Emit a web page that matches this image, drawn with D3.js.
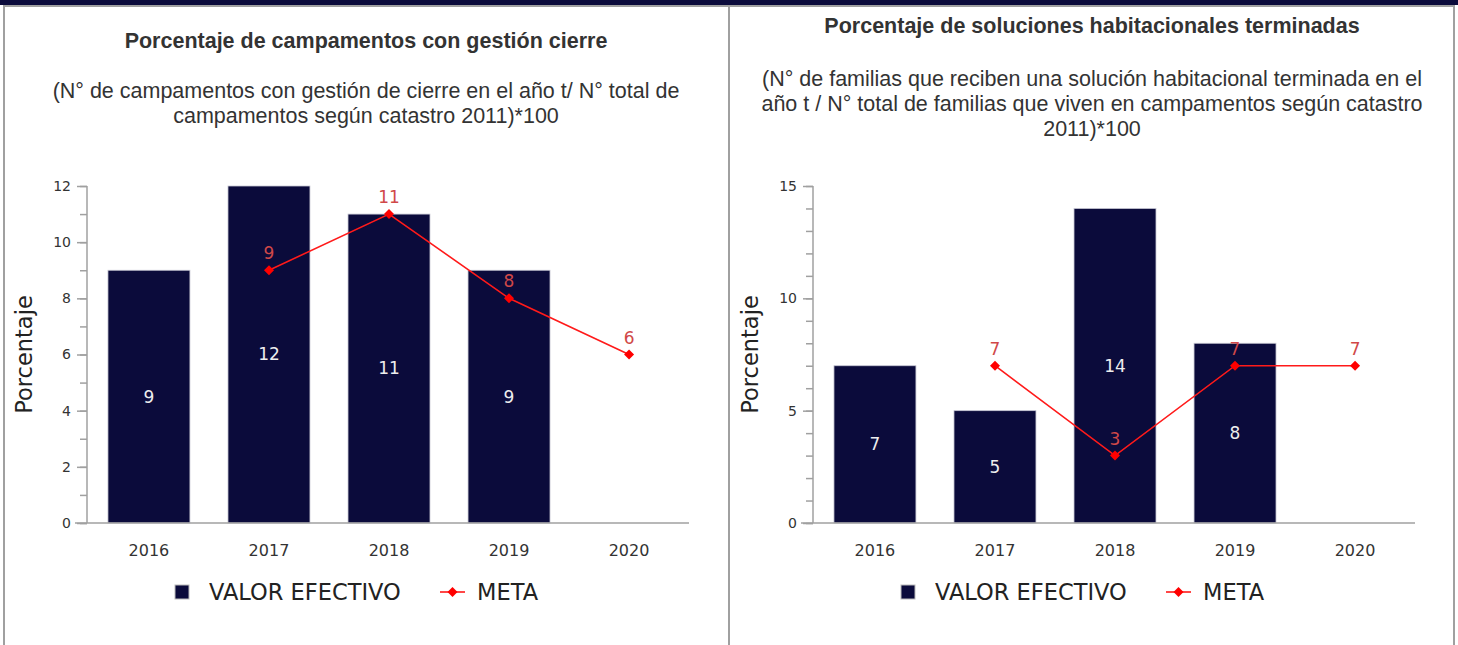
<!DOCTYPE html>
<html>
<head>
<meta charset="utf-8">
<script src="https://cdn.jsdelivr.net/npm/d3@7"></script>
<style>
  html, body { margin: 0; padding: 0; background: #fff; }
  svg { display: block; }
</style>
</head>
<body>
<div id="chart"></div>
<script>
const [WIDTH, HEIGHT] = [1458, 645]

const years = ['2016', '2017', '2018', '2019', '2020']

const leftValor = [9, 12, 11, 9, null]
const leftMeta = [null, 9, 11, 8, 6]
const leftTicks = [0, 2, 4, 6, 8, 10, 12]

const rightValor = [7, 5, 14, 8, null]
const rightMeta = [null, 7, 3, 7, 7]
const rightTicks = [0, 5, 10, 15]

const NAVY = '#0b0b3b'
const GRAY = '#a0a0a0'

const svg = d3.select('#chart').append('svg')
    .attr('width', WIDTH)
    .attr('height', HEIGHT)

// page frame
svg.append('rect').attr('x', 0).attr('y', 0).attr('width', WIDTH).attr('height', 5).attr('fill', NAVY)
svg.append('rect').attr('x', 3).attr('y', 5).attr('width', 1452).attr('height', 2).attr('fill', GRAY)
for (const x of [3, 728, 1453]) {
    svg.append('rect').attr('x', x).attr('y', 5).attr('width', 2).attr('height', HEIGHT).attr('fill', GRAY)
}

function drawPanel(opts) {
    const g = svg.append('g').attr('transform', `translate(${opts.dx},0)`)
    const cx = 366

    g.append('text')
        .attr('x', cx).attr('y', opts.titleY)
        .attr('text-anchor', 'middle')
        .style('font', 'bold 21.5px "Liberation Sans", Arial, sans-serif')
        .attr('fill', '#333')
        .text(opts.title)

    g.append('text')
        .attr('text-anchor', 'middle')
        .style('font', '21.5px "Liberation Sans", Arial, sans-serif')
        .attr('fill', '#333')
        .selectAll('tspan')
        .data(opts.subtitle)
        .join('tspan')
            .attr('x', cx)
            .attr('y', (d, i) => opts.subY + i * 25)
            .text(d => d)

    const x = d3.scaleBand(years, [89, 689]).paddingInner(0.317).paddingOuter(0.158)
    const y = d3.scaleLinear([0, opts.max], [523, 186])

    // y axis with minor ticks
    const yMinor = d3.axisLeft(y).tickValues(d3.range(0, opts.max + 1)).tickSize(7).tickFormat('')
    const yAxis = d3.axisLeft(y).tickValues(opts.ticks).tickSize(10).tickPadding(6)

    g.append('g')
        .attr('transform', 'translate(87,0)')
        .call(yMinor)
        .call(a => a.select('.domain').remove())
        .call(a => a.selectAll('line').attr('stroke', GRAY).attr('stroke-width', 1.5))

    g.append('g')
        .attr('transform', 'translate(87,0)')
        .call(yAxis)
        .call(a => a.select('.domain').remove())
        .call(a => a.selectAll('line').attr('stroke', GRAY).attr('stroke-width', 1.5))
        .call(a => a.selectAll('text')
            .style('font', '14px "DejaVu Sans", sans-serif')
            .attr('fill', '#333'))

    g.append('line')
        .attr('x1', 87).attr('x2', 87)
        .attr('y1', y(opts.max)).attr('y2', y(0))
        .attr('stroke', GRAY).attr('stroke-width', 1.5)

    g.append('text')
        .attr('transform', `translate(32,${(y(0) + y(opts.max)) / 2}) rotate(-90)`)
        .attr('text-anchor', 'middle')
        .style('font', '22.5px "DejaVu Sans", sans-serif')
        .attr('fill', '#222')
        .text('Porcentaje')

    const rows = years.map((yr, i) => ({ yr, valor: opts.valor[i], meta: opts.meta[i] }))

    g.append('g').selectAll('rect')
        .data(rows.filter(d => d.valor != null))
        .join('rect')
            .attr('x', d => x(d.yr))
            .attr('y', d => y(d.valor))
            .attr('width', x.bandwidth())
            .attr('height', d => y(0) - y(d.valor))
            .attr('fill', NAVY)
            .attr('stroke', '#c8c8d4')
            .attr('stroke-width', 0.8)

    g.append('g').selectAll('text')
        .data(rows.filter(d => d.valor != null))
        .join('text')
            .attr('x', d => x(d.yr) + x.bandwidth() / 2)
            .attr('y', d => (y(0) + y(d.valor)) / 2)
            .attr('dy', '0.35em')
            .attr('text-anchor', 'middle')
            .style('font', '17px "DejaVu Sans", sans-serif')
            .attr('fill', '#eee')
            .text(d => d.valor)

    // x axis
    g.append('line')
        .attr('x1', 75).attr('x2', 689)
        .attr('y1', y(0)).attr('y2', y(0))
        .attr('stroke', GRAY).attr('stroke-width', 1.5)

    g.append('g').selectAll('text')
        .data(years)
        .join('text')
            .attr('x', d => x(d) + x.bandwidth() / 2)
            .attr('y', 556)
            .attr('text-anchor', 'middle')
            .style('font', '16px "DejaVu Sans", sans-serif')
            .attr('fill', '#333')
            .text(d => d)

    // meta line
    const metaRows = rows.filter(d => d.meta != null)
    const line = d3.line()
        .x(d => x(d.yr) + x.bandwidth() / 2)
        .y(d => y(d.meta))

    g.append('path')
        .datum(metaRows)
        .attr('d', line)
        .attr('fill', 'none')
        .attr('stroke', '#ff1a1a')
        .attr('stroke-width', 1.6)

    g.append('g').selectAll('path')
        .data(metaRows)
        .join('path')
            .attr('transform', d => `translate(${x(d.yr) + x.bandwidth() / 2},${y(d.meta)})`)
            .attr('d', 'M0,-5L5,0L0,5L-5,0Z')
            .attr('fill', '#ff0000')

    g.append('g').selectAll('text')
        .data(metaRows)
        .join('text')
            .attr('x', d => x(d.yr) + x.bandwidth() / 2)
            .attr('y', d => y(d.meta) - 11)
            .attr('text-anchor', 'middle')
            .style('font', '17px "DejaVu Sans", sans-serif')
            .attr('fill', '#d04848')
            .text(d => d.meta)

    // legend
    const lg = g.append('g').attr('transform', 'translate(0,592)')
    lg.append('rect')
        .attr('x', 175).attr('y', -7).attr('width', 14).attr('height', 14)
        .attr('fill', NAVY).attr('stroke', '#bbb').attr('stroke-width', 1)
    lg.append('text')
        .attr('x', 209).attr('dy', '0.36em')
        .style('font', '22.5px "DejaVu Sans", sans-serif')
        .attr('fill', '#222')
        .text('VALOR EFECTIVO')
    lg.append('line')
        .attr('x1', 440).attr('x2', 465)
        .attr('stroke', '#ff1a1a').attr('stroke-width', 1.6)
    lg.append('path')
        .attr('transform', 'translate(452.5,0)')
        .attr('d', 'M0,-5L5,0L0,5L-5,0Z')
        .attr('fill', '#ff0000')
    lg.append('text')
        .attr('x', 477).attr('dy', '0.36em')
        .style('font', '22.5px "DejaVu Sans", sans-serif')
        .attr('fill', '#222')
        .text('META')
}

drawPanel({
    dx: 0,
    title: 'Porcentaje de campamentos con gestión cierre',
    titleY: 48,
    subtitle: ['(N° de campamentos con gestión de cierre en el año t/ N° total de',
               'campamentos según catastro 2011)*100'],
    subY: 98,
    max: 12,
    ticks: leftTicks,
    valor: leftValor,
    meta: leftMeta,
})

drawPanel({
    dx: 726,
    title: 'Porcentaje de soluciones habitacionales terminadas',
    titleY: 33,
    subtitle: ['(N° de familias que reciben una solución habitacional terminada en el',
               'año t / N° total de familias que viven en campamentos según catastro',
               '2011)*100'],
    subY: 86,
    max: 15,
    ticks: rightTicks,
    valor: rightValor,
    meta: rightMeta,
})
</script>
</body>
</html>
